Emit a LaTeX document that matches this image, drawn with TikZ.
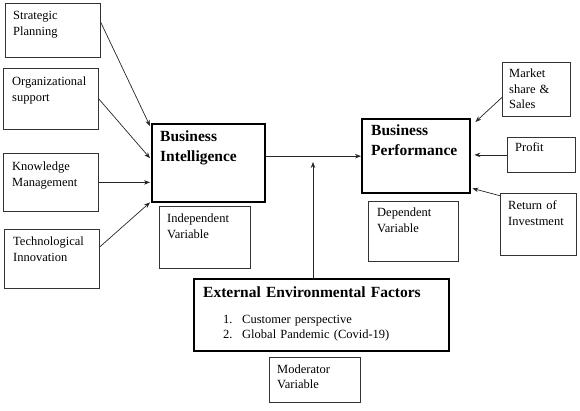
\documentclass[tikz,border=0pt]{standalone}
\usepackage{fontspec}
\setmainfont{Liberation Serif}
\usetikzlibrary{arrows.meta,calc}
\begin{document}
\begin{tikzpicture}[x=1pt,y=-1pt,
 box/.style={draw=black!80,line width=0.8pt,inner sep=0,anchor=north west},
 bigbox/.style={draw=black,line width=2.4pt,inner sep=0,anchor=north west},
 txt/.style={anchor=base west,inner sep=0,font=\fontsize{12.5}{15.5}\selectfont,text width=110pt,align=left},
 btxt/.style={anchor=base west,inner sep=0,font=\fontsize{15.5}{20}\selectfont\bfseries,text width=230pt,align=left},
 arr/.style={-{Stealth[length=6pt,width=4.5pt]},line width=0.7pt,draw=black!85}]
\useasboundingbox (0,0) rectangle (580,411);
% boxes
\node[box,minimum width=95pt,minimum height=54pt] (sp) at (5,3) {};
\node[box,minimum width=95pt,minimum height=61pt] (os) at (3,68) {};
\node[box,minimum width=95pt,minimum height=58pt] (km) at (3,153) {};
\node[box,minimum width=95pt,minimum height=59pt] (ti) at (4,229) {};
\node[bigbox,minimum width=113pt,minimum height=78pt] (bi) at (151,123) {};
\node[box,minimum width=91pt,minimum height=62pt] (iv) at (159,206) {};
\node[bigbox,minimum width=108pt,minimum height=74pt] (bp) at (361,118) {};
\node[box,minimum width=68pt,minimum height=54pt] (ms) at (502,62) {};
\node[box,minimum width=68pt,minimum height=35pt] (pr) at (507,137) {};
\node[box,minimum width=76pt,minimum height=62pt] (roi) at (500,193) {};
\node[box,minimum width=90pt,minimum height=60pt] (dv) at (368,201) {};
\node[bigbox,minimum width=255pt,minimum height=72pt] (eef) at (193,278) {};
\node[box,minimum width=91pt,minimum height=45pt] (mv) at (269,357) {};
% texts
\node[txt] (tsp) at (13,20) {Strategic\\Planning};
\node[txt] (tos) at (12,86) {Organizational\\support};
\node[txt] (tkm) at (12,171) {Knowledge\\Management};
\node[txt] (tti) at (13,246) {Technological\\Innovation};
\node[btxt] (tbi) at (160,142) {Business\\Intelligence};
\node[txt] (tiv) at (167,223) {Independent\\Variable};
\node[btxt] (tbp) at (371,136) {Business\\Performance};
\node[txt] (tms) at (509,78) {Market\\share \&\\Sales};
\node[txt] (tpr) at (515,152) {Profit};
\node[txt] (troi) at (508,210) {Return of\\Investment};
\node[txt] (tdv) at (377,217) {Dependent\\Variable};
\node[btxt] (teef) at (203,297) {External Environmental Factors};
\node[txt,text width=220pt] (tlist) at (223,323) {\makebox[19pt][l]{1.}Customer perspective\\\makebox[19pt][l]{2.}Global Pandemic (Covid-19)};
\node[txt] (tmv) at (277,373) {Moderator\\Variable};
% connectors
\draw[arr] ([yshift=8pt]sp.east) -- ([xshift=-1pt,yshift=-3pt]bi.north west);
\draw[arr] (os.east) -- ([xshift=-1pt,yshift=5pt]bi.west);
\draw[arr] (km.east) -- ([xshift=-1pt]km.east -| bi.west);
\draw[arr] ([yshift=12pt]ti.east) -- ([xshift=-1pt,yshift=1pt]bi.south west);
\draw[arr] (bp.west -| bi.east) -- (bp.west);
\coordinate (mod) at (313,162);
\draw[arr] (eef.north -| mod) -- (mod);
\draw[arr] ([yshift=-8pt]ms.west) -- ([xshift=4pt,yshift=-4pt]bp.north east);
\draw[arr] (pr.west) -- ([xshift=3pt]pr.west -| bp.east);
\draw[arr] ([xshift=1pt,yshift=-3pt]roi.north west) -- ([xshift=1pt,yshift=6pt]bp.south east);
\end{tikzpicture}
\end{document}
